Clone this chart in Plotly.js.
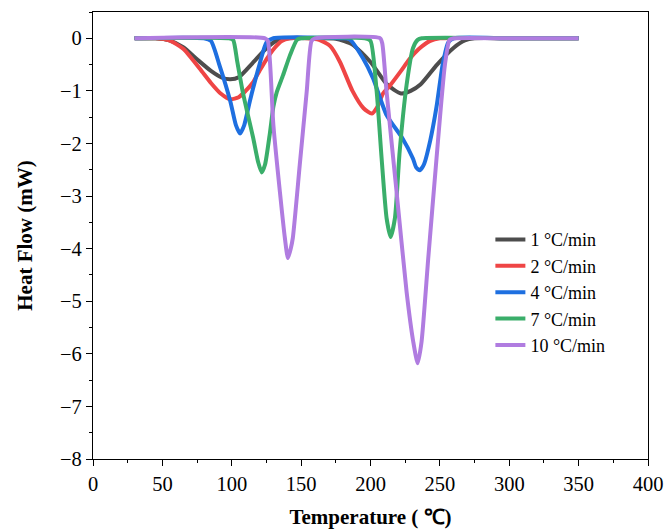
<!DOCTYPE html>
<html>
<head>
<meta charset="utf-8">
<script src="https://cdn.plot.ly/plotly-3.0.1.min.js"></script>
<style>html,body{margin:0;padding:0;background:#fff}#chart{width:665px;height:529px}</style>
</head>
<body>
<div id="chart"></div>
<script>
// Series labels
const seriesNames = ["1 \u00B0C/min", "2 \u00B0C/min", "4 \u00B0C/min", "7 \u00B0C/min", "10 \u00B0C/min"];

// 1 °C/min
const t1 = [30, 45, 55, 65, 75, 85, 93, 99, 105, 115, 125, 132, 140, 160, 175, 187, 200, 212, 222, 229, 236, 248, 260, 268, 275, 300, 350];
const h1 = [0, 0, -0.04, -0.17, -0.4, -0.62, -0.75, -0.78, -0.74, -0.47, -0.19, -0.05, 0, 0, -0.01, -0.12, -0.45, -0.88, -1.05, -1.0, -0.88, -0.5, -0.18, -0.04, 0, 0, 0];

// 2 °C/min
const t2 = [30, 45, 55, 65, 77, 85, 92, 99, 105, 110, 115, 120, 125, 131, 136, 142, 155, 163, 171, 178, 187, 195, 201, 205, 209, 214, 222, 228, 235, 243, 250, 300, 350];
const h2 = [0, 0, -0.04, -0.2, -0.58, -0.85, -1.05, -1.16, -1.12, -1.0, -0.85, -0.62, -0.4, -0.18, -0.05, 0, 0, -0.03, -0.15, -0.45, -1.0, -1.33, -1.43, -1.3, -1.05, -0.9, -0.62, -0.4, -0.2, -0.05, 0, 0, 0];

// 4 °C/min
const t4 = [30, 80, 85, 91, 99, 103, 106, 109, 113, 120, 125, 130, 180, 185, 194.6, 201.8, 211.6, 223, 230.5, 233, 235.6, 238.5, 243, 247.6, 252, 256, 260, 300, 350];
const h4 = [0, 0, -0.05, -0.5, -1.2, -1.65, -1.81, -1.65, -1.2, -0.5, -0.08, 0, 0, -0.02, -0.38, -0.76, -1.46, -1.9, -2.28, -2.46, -2.51, -2.4, -1.95, -1.3, -0.5, -0.08, 0, 0, 0];

// 7 °C/min
const t7 = [30, 98, 101, 104, 108, 112, 115.5, 119, 121.6, 124, 127.5, 130, 132.5, 137, 142, 147, 150, 196, 200, 204.4, 208, 211.6, 214.5, 217.6, 221, 226, 230.6, 234, 237, 300, 350];
const h7 = [0, 0, -0.03, -0.45, -1.03, -1.5, -1.9, -2.35, -2.55, -2.4, -1.8, -1.3, -1.02, -0.7, -0.32, -0.03, 0, 0, -0.05, -1.0, -2.28, -3.42, -3.78, -3.42, -2.16, -0.89, -0.19, -0.03, 0, 0, 0];

// 10 °C/min
const t10 = [30, 124, 126, 130, 134.7, 138.3, 140.5, 142.5, 144, 149, 154, 157.5, 160, 207, 208.5, 211.6, 218.8, 226, 230.8, 234, 236.8, 241.6, 247.6, 253.6, 257, 260, 300, 350];
const h10 = [0, 0, -0.05, -1.65, -2.92, -3.8, -4.18, -4.0, -3.8, -2.41, -1.02, -0.05, 0, 0, -0.1, -1.02, -2.92, -4.82, -5.77, -6.18, -5.77, -4.19, -2.28, -0.51, -0.03, 0, 0, 0];

const xs = [t1, t2, t4, t7, t10];
const ys = [h1, h2, h4, h7, h10];
const colors = ["#4d4d4d", "#ef4545", "#1e6fe0", "#3aae6a", "#b07ce0"];

const FONT = "'Liberation Serif', 'Times New Roman', serif";

const traces = xs.map((x, i) => ({
  x: x, y: ys[i], name: seriesNames[i], type: "scatter", mode: "lines",
  line: {color: colors[i], width: 4, shape: "spline", smoothing: 0.6}
}));

const axisCommon = {
  showline: true, linecolor: "#000", linewidth: 1.3, mirror: true,
  ticks: "outside", ticklen: 6, tickwidth: 1.3, tickcolor: "#000",
  showgrid: false, zeroline: false,
  tickfont: {family: FONT, size: 20.5, color: "#000"}
};

const layout = {
  width: 665, height: 529,
  margin: {l: 93, r: 17, t: 12, b: 70},
  paper_bgcolor: "#fff", plot_bgcolor: "#fff",
  showlegend: true,
  legend: {x: 0.716, y: 0.532, xanchor: "left", yanchor: "top",
           font: {family: FONT, size: 18, color: "#000"}, bgcolor: "rgba(0,0,0,0)"},
  xaxis: Object.assign({}, axisCommon, {
    range: [0, 400], dtick: 50, tick0: 0, ticklabelstandoff: 0,
    minor: {ticks: "outside", ticklen: 3, dtick: 25, tickcolor: "#000", tickwidth: 1.3},
    title: {text: "<b>Temperature ( \u2103)</b>", font: {family: FONT, size: 21, color: "#000"}, standoff: 16}
  }),
  yaxis: Object.assign({}, axisCommon, {
    range: [-8, 0.5], dtick: 1, tick0: 0,
    minor: {ticks: "outside", ticklen: 3, dtick: 0.5, tickcolor: "#000", tickwidth: 1.3},
    title: {text: "<b>Heat Flow (mW)</b>", font: {family: FONT, size: 21, color: "#000"}, standoff: 21}
  })
};

Plotly.newPlot("chart", traces, layout, {displayModeBar: false, responsive: false});
</script>
</body>
</html>
